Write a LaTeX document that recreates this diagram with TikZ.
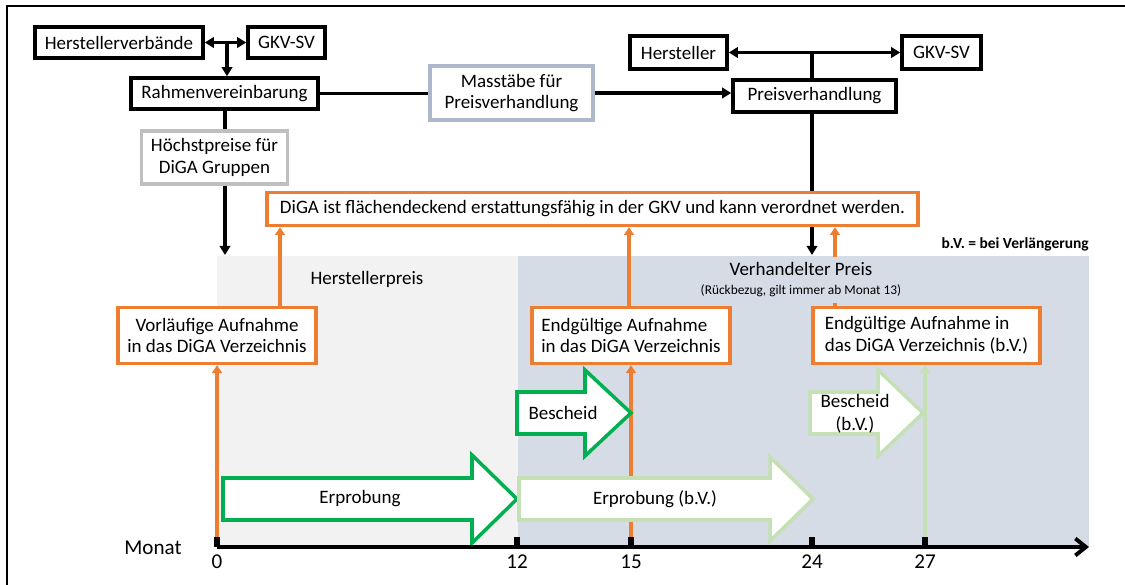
\documentclass[tikz,border=0pt]{standalone}
\usepackage{fontspec}
\setmainfont{Carlito}
\usetikzlibrary{arrows.meta}
\pgfdeclarelayer{bg}
\pgfdeclarelayer{lines}
\pgfsetlayers{bg,lines,main}
\definecolor{orng}{HTML}{ED7D31}
\definecolor{grn}{HTML}{00B050}
\definecolor{lgrn}{HTML}{C5E0B4}
\definecolor{areagrey}{HTML}{F2F2F2}
\definecolor{areablue}{HTML}{D6DCE5}
\definecolor{bluegrey}{HTML}{ADB9CA}
\definecolor{midgrey}{HTML}{BFBFBF}
\begin{document}
\begin{tikzpicture}[x=0.025cm,y=-0.025cm,
  box/.style={draw=black,line width=2.5pt,fill=white,inner sep=0pt,align=center,
    font=\fontsize{13.5}{15.5}\selectfont},
  obox/.style={box,draw=orng},
  gbox/.style={box,draw=midgrey},
  bbox/.style={box,draw=bluegrey},
  blk/.style={line width=2.3pt,draw=black},
  blkarr/.style={blk,-{Triangle[length=6.5pt,width=7.5pt]}},
  blkdbl/.style={blk,{Triangle[length=6.5pt,width=7.5pt]}-{Triangle[length=6.5pt,width=7.5pt]}},
  oline/.style={line width=2.6pt,draw=orng,-{Triangle[length=5.5pt,width=7pt]}},
  lgline/.style={line width=2.4pt,draw=lgrn,-{Triangle[length=5.5pt,width=7pt]}},
  garrow/.style={draw=grn,line width=2.5pt,fill=white,line join=miter},
  lgarrow/.style={draw=lgrn,line width=2.5pt,fill=white,line join=miter},
  lbl/.style={inner sep=0pt,font=\fontsize{13.5}{15.5}\selectfont,align=center},
  num/.style={inner sep=0pt,font=\fontsize{15}{17}\selectfont},
  tickmark/.style={fill=black}
]
\useasboundingbox (0,0) rectangle (1125,585);

% background areas and frame
\begin{pgfonlayer}{bg}
  \fill[white] (0,0) rectangle (1125,585);
  \fill[areagrey] (217,256) rectangle (518,547);
  \fill[areablue] (518,256) rectangle (1089,547);
  \draw[line width=1.6pt] (7,585) -- (7,6) -- (1125,6);
\end{pgfonlayer}

% boxes
\node[box,minimum width=4.2cm,minimum height=0.775cm] (hv) at (119,42.5) {Herstellerverbände};
\node[box,minimum width=1.925cm,minimum height=0.775cm] (gkv1) at (286.5,42.5) {GKV-SV};
\node[box,minimum width=4.675cm,minimum height=0.775cm] (rahmen) at (224.5,93.5) {Rahmenvereinbarung};
\node[gbox,minimum width=3.65cm,minimum height=1.325cm] (hoechst) at (214.5,157.5) {Höchstpreise für\\DiGA Gruppen};
\node[bbox,minimum width=4.075cm,minimum height=1.35cm] (masst) at (511.5,93) {Masstäbe für\\Preisverhandlung};
\node[box,minimum width=2.425cm,minimum height=0.825cm] (herst) at (678.5,52.5) {Hersteller};
\node[box,minimum width=1.975cm,minimum height=0.825cm] (gkv2) at (941.5,52.5) {GKV-SV};
\node[box,minimum width=4.075cm,minimum height=0.8cm] (preis) at (814.5,96) {Preisverhandlung};
\node[obox,minimum width=16.275cm,minimum height=0.825cm] (diga) at (592.5,209) {DiGA ist flächendeckend erstattungsfähig in der GKV und kann verordnet werden.};
\node[obox,minimum width=4.95cm,minimum height=1.4cm] (vorl) at (217,335.5) {Vorläufige Aufnahme\\in das DiGA Verzeichnis};
\node[obox,minimum width=4.95cm,minimum height=1.4cm,align=left] (endg1) at (631,335.5) {Endgültige Aufnahme\\in das DiGA Verzeichnis};
\node[obox,minimum width=5.675cm,minimum height=1.4cm,align=left] (endg2) at (926.5,335.5) {Endgültige Aufnahme in\\das DiGA Verzeichnis (b.V.)};

% area labels
\node[lbl] (hp) at (367,279) {Herstellerpreis};
\node[lbl,fill=areablue,anchor=north,inner xsep=2pt,minimum height=1.15cm,
  font=\fontsize{13.5}{13.5}\selectfont] (vp) at (801,256.5)
  {Verhandelter Preis\\{\fontsize{9.5}{13.5}\selectfont (Rückbezug, gilt immer ab Monat 13)}};
\node[inner sep=0pt,anchor=east,font=\bfseries\fontsize{11}{12}\selectfont] (bv) at (1089,244) {b.V. = bei Verlängerung};

% big arrows
\draw[garrow] (223,478) -- (472,478) -- (472,455) -- (517,499) -- (472,543) -- (472,520) -- (223,520) -- cycle;
\node[lbl] (erp) at (360,499) {Erprobung};
\draw[lgarrow] (519,478) -- (770,478) -- (770,457) -- (813,499) -- (770,541) -- (770,520) -- (519,520) -- cycle;
\node[lbl] (erpbv) at (655,499) {Erprobung (b.V.)};
\draw[garrow] (517,392) -- (585,392) -- (585,370) -- (631,413) -- (585,456) -- (585,434) -- (517,434) -- cycle;
\node[lbl] (besch) at (563,413) {Bescheid};
\draw[lgarrow] (810,392) -- (878,392) -- (878,370) -- (923,413) -- (878,456) -- (878,434) -- (810,434) -- cycle;
\node[lbl,font=\fontsize{13.5}{16.5}\selectfont] (beschbv) at (855,414) {Bescheid\\(b.V.)};

% axis
\coordinate (ax0) at (217,547);
\coordinate (axe) at (1089,547);
\draw[line width=2.8pt,-{Straight Barb[length=7.5pt,width=12pt]}] (ax0) -- (axe);
\foreach \x/\m in {217/0,517/12,631/15,812/24,925/27}{
  \fill[tickmark] (\x-3,537) rectangle (\x+3,547);
  \node[num] at (\x,562) {\m};
}
\node[inner sep=0pt,font=\fontsize{15}{17}\selectfont] (mon) at (153,548) {Monat};

% connectors
\begin{pgfonlayer}{lines}
  \draw[blkdbl] (hv.east) -- (gkv1.west);
  \coordinate (m1) at (227,42.5);
  \draw[blkarr] (m1) -- (m1 |- rahmen.north);
  \coordinate (t1) at (225,255);
  \draw[blkarr] (rahmen.south -| t1) -- (t1);
  \draw[blk] (rahmen.east) -- (rahmen.east -| masst.west);
  \draw[blkarr] (masst.east) -- (masst.east -| preis.west);
  \draw[blkdbl] (herst.east) -- (gkv2.west);
  \coordinate (m2) at (812,52.5);
  \draw[blk] (m2) -- (m2 |- preis.north);
  \coordinate (t2) at (812,255);
  \draw[blkarr] (preis.south -| t2) -- (t2);
  % orange
  \draw[oline] (ax0) -- (vorl.south);
  \coordinate (o1) at (280,0);
  \draw[oline] (vorl.north -| o1) -- (diga.south -| o1);
  \coordinate (a15) at (631,547);
  \draw[oline] (a15) -- (endg1.south);
  \coordinate (o2) at (629,0);
  \draw[oline] (endg1.north -| o2) -- (diga.south -| o2);
  \coordinate (o3) at (835,0);
  \draw[oline] (endg2.north -| o3) -- (diga.south -| o3);
  \coordinate (a27) at (925,547);
  \draw[lgline] (a27) -- (a27 |- endg2.south);
\end{pgfonlayer}
\end{tikzpicture}
\end{document}
